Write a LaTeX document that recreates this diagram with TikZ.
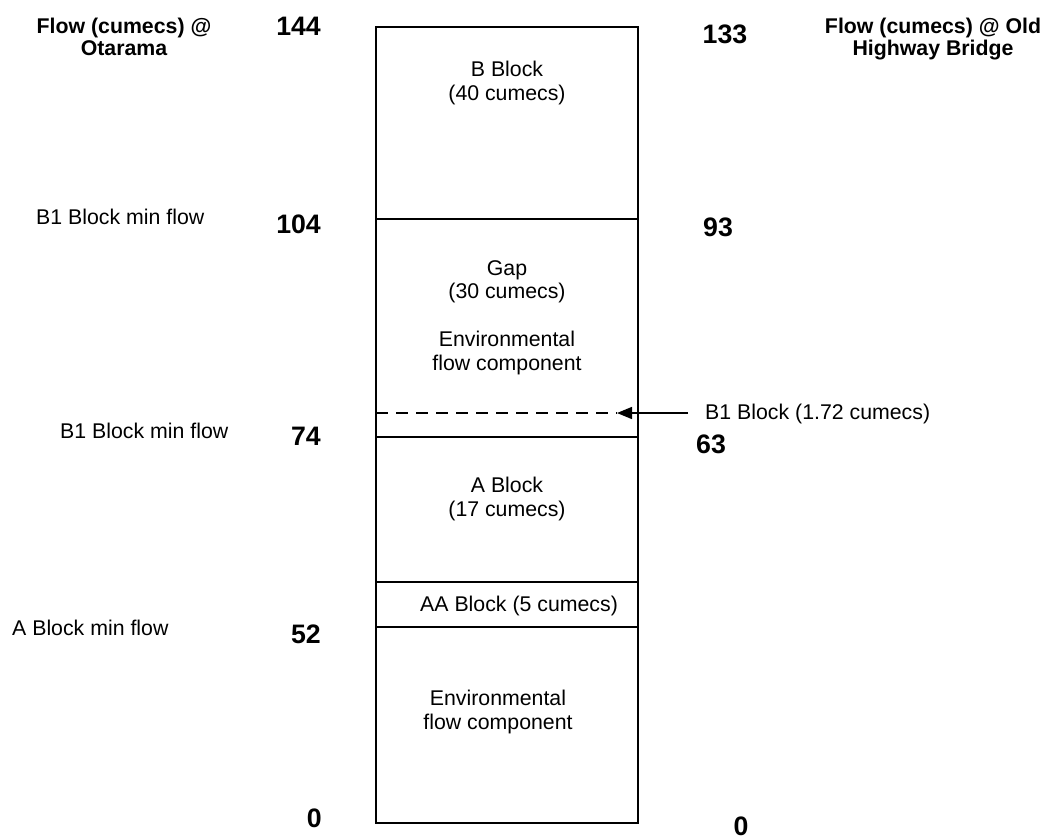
\documentclass[tikz,border=0pt]{standalone}
\usepackage{fontspec}
\setmainfont{Liberation Sans}
\usetikzlibrary{arrows.meta}

\tikzset{
  rule/.style={line width=1.4pt, black},
  txt/.style={inner sep=0pt, font=\fontsize{21.3}{23.5}\selectfont},
  ctxt/.style={txt, align=center},
  num/.style={inner sep=0pt, font=\fontsize{26.7}{30}\selectfont\bfseries},
  head/.style={inner sep=0pt, align=center, font=\fontsize{21.3}{22.5}\selectfont\bfseries},
}

\begin{document}
\begin{tikzpicture}[x=1pt, y=-1pt]
\useasboundingbox (0,0) rectangle (1046,839);

% column outline and block boundaries
\coordinate (tl) at (376,27);
\coordinate (br) at (638,823);
\draw[rule] (tl) rectangle (br);
\draw[rule] (376,219) -- (638,219);
\draw[rule] (376,437) -- (638,437);
\draw[rule] (376,582) -- (638,582);
\draw[rule] (376,627) -- (638,627);

% B1 block marker
\coordinate (dashL) at (376,413);
\coordinate (tip) at (617,413);
\coordinate (arrS) at (688,413);
\draw[rule, dash pattern=on 12pt off 8pt] (dashL) -- (tip);
\draw[rule, -{Triangle[length=15pt,width=12pt]}] (arrS) -- (tip);
\node[txt, anchor=base west] (b1lbl) at (705,419) {B1 Block (1.72 cumecs)};

% headings
\node[head] (hleft) at (124,37) {Flow (cumecs) @\\Otarama};
\node[head] (hright) at (933,39) {Flow (cumecs) @ Old\\Highway Bridge};

% flows at Otarama
\node[num, anchor=base east] (l144) at (321,35) {144};
\node[num, anchor=base east] (l104) at (321,233) {104};
\node[num, anchor=base east] (l74) at (321,445) {74};
\node[num, anchor=base east] (l52) at (321,643) {52};
\node[num, anchor=base east] (l0) at (322,827) {0};

% flows at Old Highway Bridge
\node[num, anchor=base] (r133) at (725,43) {133};
\node[num, anchor=base] (r93) at (718,236) {93};
\node[num, anchor=base] (r63) at (711,453) {63};
\node[num, anchor=base] (r0) at (741,835) {0};

% minimum flow notes
\node[txt, anchor=base west] (minB1a) at (36,224) {B1 Block min flow};
\node[txt, anchor=base west] (minB1b) at (60,438) {B1 Block min flow};
\node[txt, anchor=base west] (minA) at (12,635) {A Block min flow};

% block contents
\node[ctxt] (bblk) at (507,83) {B Block\\(40 cumecs)};
\node[ctxt] (gap) at (507,282) {Gap\\(30 cumecs)};
\node[ctxt] (env1) at (507,353) {Environmental\\flow component};
\node[ctxt] (ablk) at (507,499) {A Block\\(17 cumecs)};
\node[txt, anchor=base west] (aablk) at (420,611) {AA Block (5 cumecs)};
\node[ctxt] (env2) at (498,712) {Environmental\\flow component};
\end{tikzpicture}
\end{document}
